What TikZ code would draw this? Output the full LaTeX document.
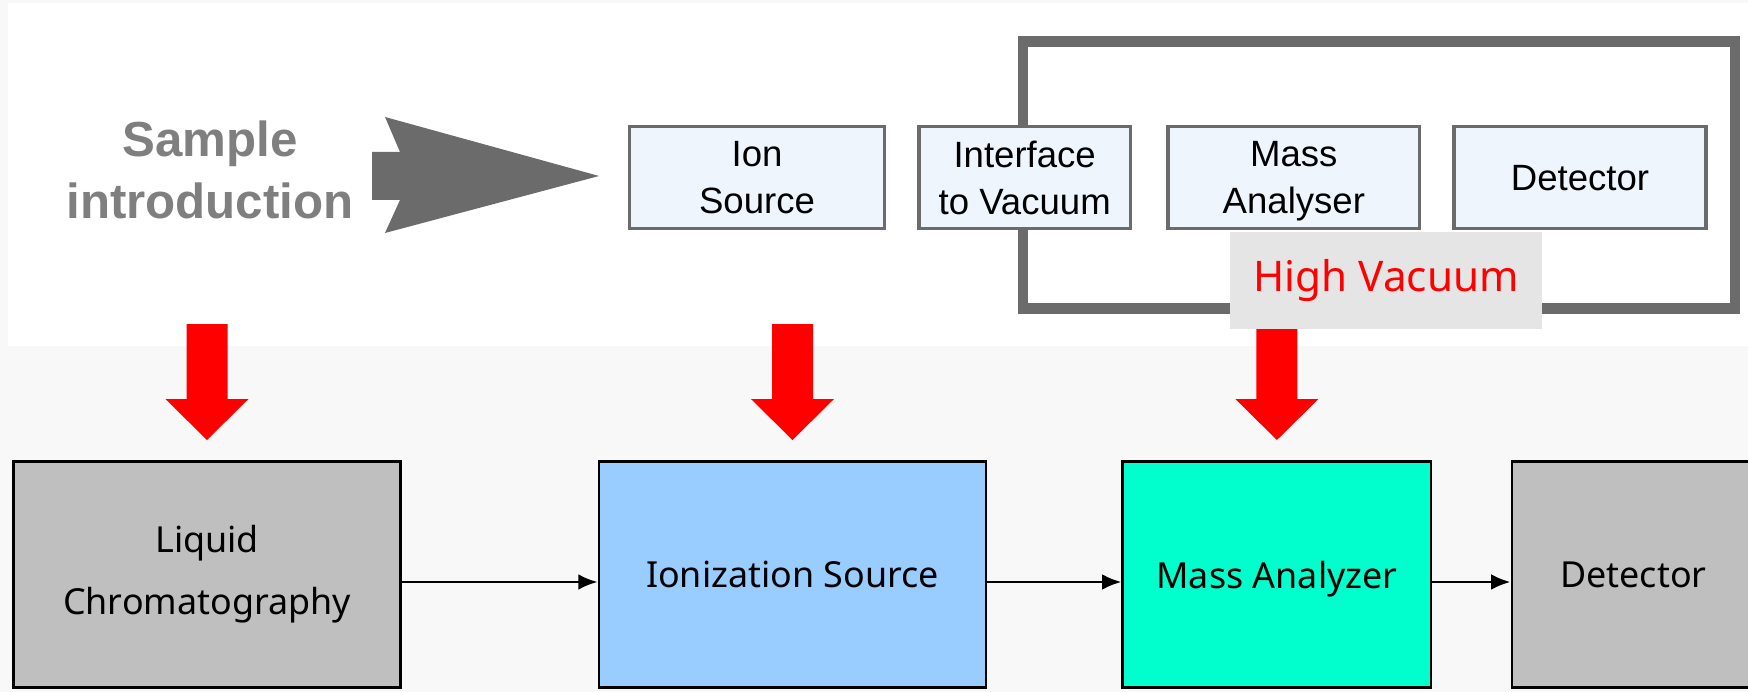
\documentclass[tikz,border=0pt]{standalone}
\usepackage{fontspec}
\setmainfont{Noto Sans}
\newfontfamily\arialfont{Liberation Sans}
\usetikzlibrary{positioning,arrows.meta}
\definecolor{framegray}{HTML}{6B6B6B}
\definecolor{topfill}{HTML}{EEF5FD}
\definecolor{samplegray}{HTML}{7F7F7F}
\definecolor{hvgray}{HTML}{E5E5E5}
\definecolor{lcgray}{HTML}{BFBFBF}
\definecolor{ionblue}{HTML}{99CCFF}
\definecolor{massgreen}{HTML}{00FFCC}
\definecolor{bggray}{HTML}{F8F8F8}
\tikzset{redarrow/.pic={\fill[red] (-20.5,-116) -- (20.5,-116) -- (20.5,-41) -- (41.5,-41) -- (0,0) -- (-41.5,-41) -- (-20.5,-41) -- cycle;}}

\begin{document}
\begin{tikzpicture}[x=0.01cm, y=-0.01cm]
		\tikzstyle{top}=[rectangle, draw=framegray, line width=1pt, fill=topfill, minimum height=1.015cm, inner sep=0pt, text depth=0pt, align=center, font=\arialfont\fontsize{10.4}{13.3}\selectfont]
		\tikzstyle{bottom}=[rectangle, draw=black, line width=0.8pt, minimum height=2.26cm, inner sep=0pt, align=center, font=\fontsize{10.2}{17.6}\selectfont]
		\tikzstyle{connect}=[-{Latex[length=5.5pt,width=4.5pt]}, line width=0.8pt]
		\useasboundingbox (0,0) rectangle (1748,692);
		\fill[bggray] (0,0) rectangle (1748,692);
		\fill[white] (8,3) rectangle (1748,346);
		
		% vacuum frame
		\draw[line width=3pt, framegray] (1023,41.5) rectangle (1735,308.5);
		
		\node[text=samplegray, align=center, font=\arialfont\bfseries\fontsize{14}{17.6}\selectfont] (sample) at (210,170) {Sample\\introduction};
		\fill[framegray] (372,152) -- (400,152) -- (385,117) -- (599,176) -- (385,233) -- (400,200) -- (372,200) -- cycle;
		
		\node[top, minimum width=2.545cm] (ionsrc) at (757,177.5) {Ion\\Source};
		\node[top, minimum width=2.115cm] (iface) [right=0.31cm of ionsrc] {Interface\\to Vacuum};
		\node[top, minimum width=2.515cm] (analyser) [right=0.34cm of iface] {Mass\\Analyser};
		\node[top, minimum width=2.515cm] (detect) [right=0.31cm of analyser] {Detector};
		
		\node[bottom, fill=lcgray, minimum width=3.87cm] (lc) at (207,574.5) {Liquid\\Chromatography};
		\node[bottom, fill=ionblue, minimum width=3.867cm] (ionization) [right=1.955cm of lc] {Ionization Source};
		\node[bottom, fill=massgreen, minimum width=3.08cm, text depth=0pt] (massan) [right=1.34cm of ionization] {Mass Analyzer};
		\node[bottom, fill=lcgray, minimum width=2.43cm] (det) [right=0.78cm of massan] {Detector};
		
		\path (lc.north) ++(0,-20) pic {redarrow};
		\path (ionization.north) ++(0,-20) pic {redarrow};
		\path (massan.north) ++(0,-20) pic {redarrow};
		
		\node[fill=hvgray, text=red, minimum width=3.12cm, minimum height=0.97cm, font=\fontsize{12}{14}\selectfont] (hv) at (1386,280.5) {High Vacuum};
		
		\draw[connect] ([yshift=-0.75mm]lc.east) -- ([yshift=-0.75mm]ionization.west);
		\draw[connect] ([yshift=-0.75mm]ionization.east) -- ([yshift=-0.75mm]massan.west);
		\draw[connect] ([yshift=-0.75mm]massan.east) -- ([yshift=-0.75mm]det.west);
	\end{tikzpicture}
\end{document}
